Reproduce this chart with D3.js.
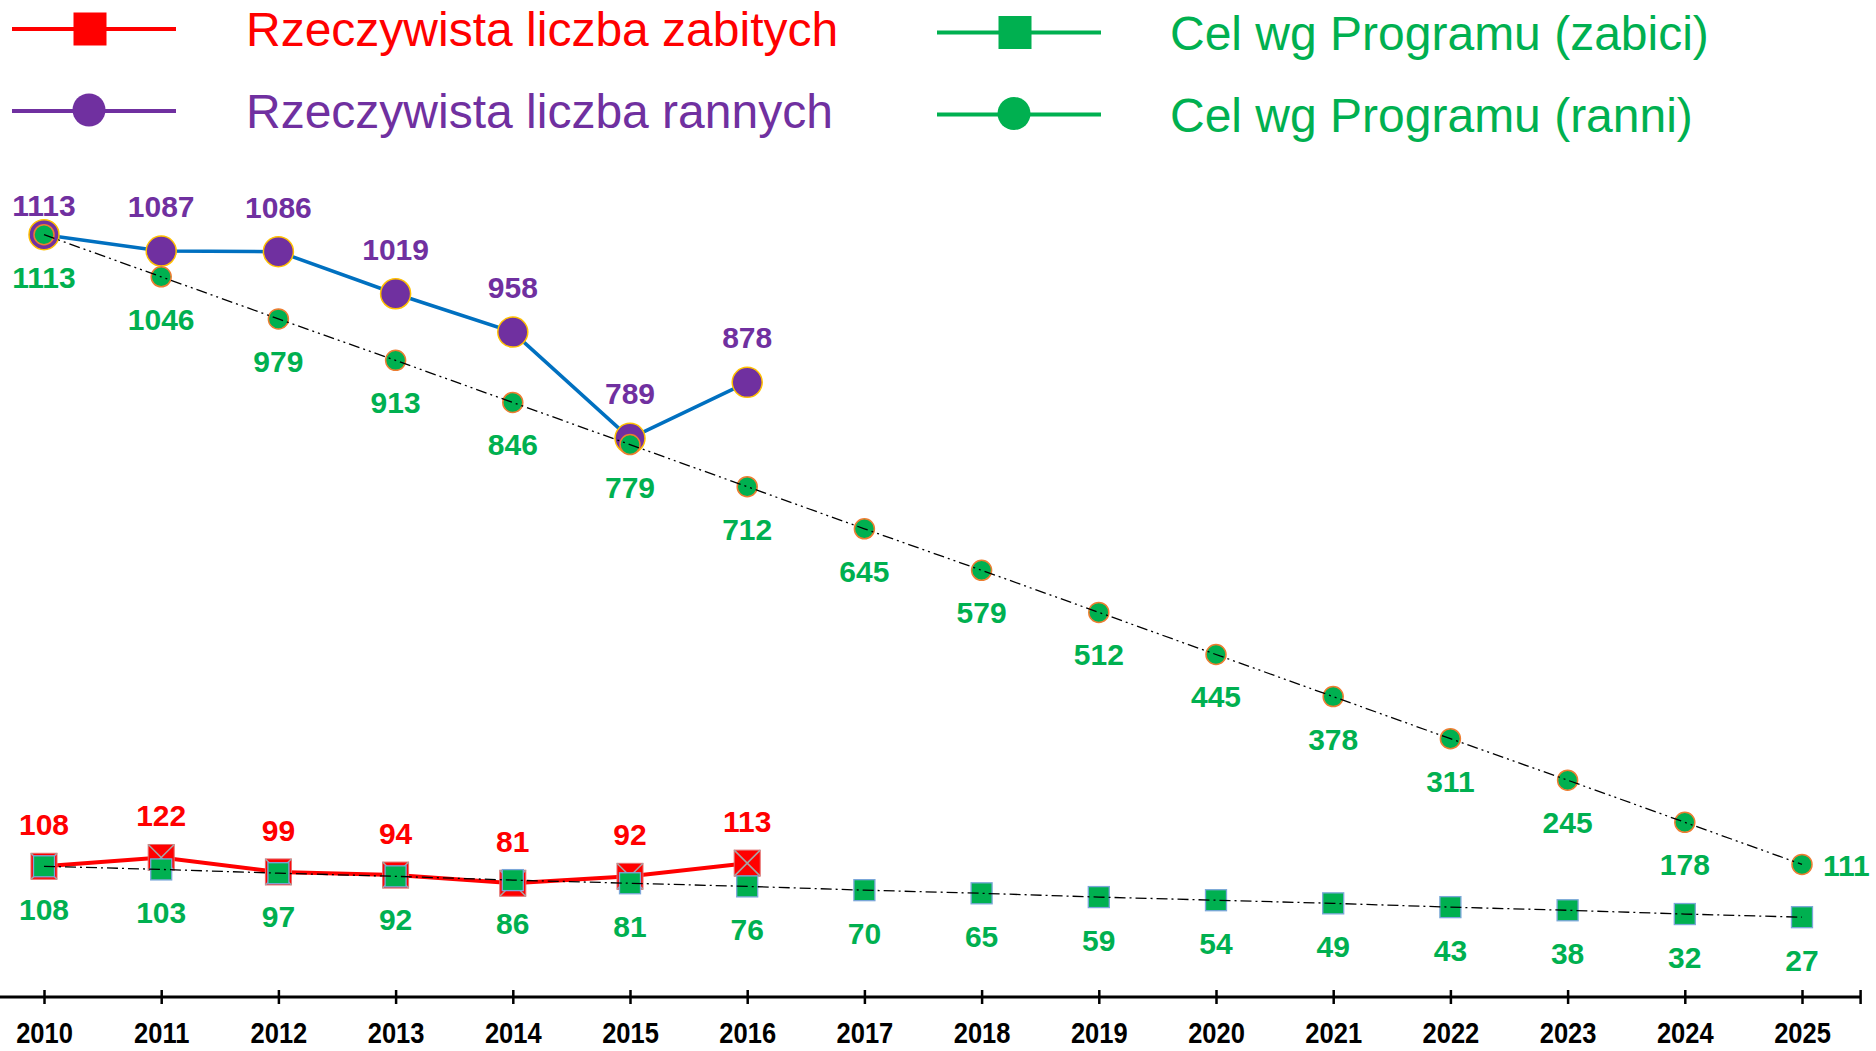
<!DOCTYPE html>
<html>
<head>
<meta charset="utf-8">
<script src="https://cdn.jsdelivr.net/npm/d3@7/dist/d3.min.js"></script>
<style>
  body { margin: 0; background: #fff; }
  svg { display: block; }
  .value-label { font-family: 'Liberation Sans', Arial, sans-serif; font-weight: bold; font-size: 30px; }
  .legend text { font-family: 'Liberation Sans', Arial, sans-serif; font-size: 48px; }
  .x-axis .tick text { font-family: 'Liberation Sans', Arial, sans-serif; font-weight: bold; font-size: 30px; fill: #000; }
</style>
</head>
<body>
<svg id="chart" width="1876" height="1051"></svg>
<script>
// categories
let years = ['2010', '2011', '2012', '2013', '2014', '2015', '2016', '2017',
  '2018', '2019', '2020', '2021', '2022', '2023', '2024', '2025']

// actual values (2010-2016)
let actualKilled = [108, 122, 99, 94, 81, 92, 113]
let actualInjured = [1113, 1087, 1086, 1019, 958, 789, 878]

// program targets (2010-2025)
let targetKilled = [108, 103, 97, 92, 86, 81, 76, 70, 65, 59, 54, 49, 43, 38, 32, 27]
let targetInjured = [1113, 1046, 979, 913, 846, 779, 712, 645, 579, 512, 445, 378, 311, 245, 178, 111]

let legendLabels = [
  'Rzeczywista liczba zabitych',
  'Rzeczywista liczba rannych',
  'Cel wg Programu (zabici)',
  'Cel wg Programu (ranni)'
]

let RED = '#ff0000'
let PURPLE = '#7030a0'
let BLUE = '#0070c0'
let GREEN = '#00b050'

let svg = d3.select('#chart')
svg.append('rect').attr('width', 1876).attr('height', 1051).attr('fill', '#fff')

let x = d3.scalePoint().domain(years).range([44, 1802])
let y = d3.scaleLinear().domain([-100, 1200]).range([997, 180])
let step = x.step()

let points = values => values.map((v, i) => ({ year: years[i], value: v, i: i }))
let line = d3.line().x(d => x(d.year)).y(d => y(d.value))

// x axis: line runs half a category past the first and last year
let xAxis = d3.axisBottom(x).tickSizeOuter(0).tickSizeInner(7)
let axisG = svg.append('g')
    .attr('class', 'x-axis')
    .attr('transform', `translate(0,${y(-100)})`)
    .call(xAxis)
let axisStart = x(years[0]) - step / 2
let axisEnd = x(years[years.length - 1]) + step / 2
axisG.select('.domain')
    .attr('d', `M${axisStart},0H${axisEnd}`)
    .attr('stroke', '#000')
    .attr('stroke-width', 3)
axisG.selectAll('.tick line')
    .attr('y1', -7).attr('y2', 7)
    .attr('stroke', '#000').attr('stroke-width', 2.5)
// no narrow font installed, so squeeze the bold face horizontally
axisG.selectAll('.tick text')
    .attr('y', 46).attr('dy', null)
    .attr('transform', 'scale(0.85,1)')
axisG.selectAll('line.end-tick')
  .data([axisStart, axisEnd])
  .join('line')
    .attr('class', 'end-tick')
    .attr('x1', d => d).attr('x2', d => d)
    .attr('y1', -7).attr('y2', 7)
    .attr('stroke', '#000').attr('stroke-width', 2.5)

// actual injured: blue line under purple circles
svg.append('path')
    .datum(points(actualInjured))
    .attr('d', line)
    .attr('fill', 'none')
    .attr('stroke', BLUE)
    .attr('stroke-width', 3.5)
svg.append('g').selectAll('circle')
  .data(points(actualInjured))
  .join('circle')
    .attr('cx', d => x(d.year))
    .attr('cy', d => y(d.value))
    .attr('r', 15)
    .attr('fill', PURPLE)
    .attr('stroke', '#ffc000')
    .attr('stroke-width', 1.5)

// target injured: green circles, dash-dot-dot line on top
svg.append('g').selectAll('circle')
  .data(points(targetInjured))
  .join('circle')
    .attr('cx', d => x(d.year))
    .attr('cy', d => y(d.value))
    .attr('r', 10)
    .attr('fill', GREEN)
    .attr('stroke', '#ed7d31')
    .attr('stroke-width', 1.5)
svg.append('path')
    .datum(points(targetInjured))
    .attr('d', line)
    .attr('fill', 'none')
    .attr('stroke', '#000')
    .attr('stroke-width', 1.3)
    .attr('stroke-dasharray', '11,4,2,4,2,4')

// actual killed: red line and red squares with a grey cross
svg.append('path')
    .datum(points(actualKilled))
    .attr('d', line)
    .attr('fill', 'none')
    .attr('stroke', RED)
    .attr('stroke-width', 4)
let redSq = 26
let redMarks = svg.append('g').selectAll('g')
  .data(points(actualKilled))
  .join('g')
    .attr('transform', d => `translate(${x(d.year)},${y(d.value)})`)
redMarks.append('rect')
    .attr('x', -redSq / 2).attr('y', -redSq / 2)
    .attr('width', redSq).attr('height', redSq)
    .attr('fill', RED)
    .attr('stroke', '#e46c6c')
    .attr('stroke-width', 1)
redMarks.append('path')
    .attr('d', `M${-redSq / 2},${-redSq / 2}L${redSq / 2},${redSq / 2}M${redSq / 2},${-redSq / 2}L${-redSq / 2},${redSq / 2}`)
    .attr('stroke', '#a6a6a6')
    .attr('stroke-width', 1.5)

// target killed: green squares, dash-dot line on top
let greenSq = 21
svg.append('g').selectAll('rect')
  .data(points(targetKilled))
  .join('rect')
    .attr('x', d => x(d.year) - greenSq / 2)
    .attr('y', d => y(d.value) - greenSq / 2)
    .attr('width', greenSq).attr('height', greenSq)
    .attr('fill', GREEN)
    .attr('stroke', '#7ba7d9')
    .attr('stroke-width', 1.3)
svg.append('path')
    .datum(points(targetKilled))
    .attr('d', line)
    .attr('fill', 'none')
    .attr('stroke', '#000')
    .attr('stroke-width', 1.3)
    .attr('stroke-dasharray', '11,4,2,4')

// value labels
let labels = svg.append('g').attr('class', 'value-label')

// purple labels sit above, but never above the top of the plot area
labels.append('g').selectAll('text')
  .data(points(actualInjured))
  .join('text')
    .attr('x', d => x(d.year))
    .attr('y', d => Math.max(y(d.value) - 34, 216))
    .attr('text-anchor', 'middle')
    .attr('fill', PURPLE)
    .text(d => d.value)

// the last target label goes to the right of its point
let lastIdx = targetInjured.length - 1
labels.append('g').selectAll('text')
  .data(points(targetInjured))
  .join('text')
    .attr('x', d => d.i === lastIdx ? x(d.year) + 21 : x(d.year))
    .attr('y', d => d.i === lastIdx ? y(d.value) + 12 : y(d.value) + 53)
    .attr('text-anchor', d => d.i === lastIdx ? 'start' : 'middle')
    .attr('fill', GREEN)
    .text(d => d.value)

labels.append('g').selectAll('text')
  .data(points(actualKilled))
  .join('text')
    .attr('x', d => x(d.year))
    .attr('y', d => y(d.value) - 31)
    .attr('text-anchor', 'middle')
    .attr('fill', RED)
    .text(d => d.value)

labels.append('g').selectAll('text')
  .data(points(targetKilled))
  .join('text')
    .attr('x', d => x(d.year))
    .attr('y', d => y(d.value) + 53.5)
    .attr('text-anchor', 'middle')
    .attr('fill', GREEN)
    .text(d => d.value)

// legend: two columns, two rows
let legendItems = [
  { label: legendLabels[0], color: RED, shape: 'square', col: 0, row: 0 },
  { label: legendLabels[1], color: PURPLE, shape: 'circle', col: 0, row: 1 },
  { label: legendLabels[2], color: GREEN, shape: 'square', col: 1, row: 0 },
  { label: legendLabels[3], color: GREEN, shape: 'circle', col: 1, row: 1 }
]
let legend = svg.append('g').attr('class', 'legend')
let item = legend.selectAll('g')
  .data(legendItems)
  .join('g')
    .attr('transform', d => `translate(${[12, 937][d.col]},${29 + d.row * 82 + d.col * 3.5})`)
item.append('line')
    .attr('x1', 0).attr('x2', 164)
    .attr('stroke', d => d.color)
    .attr('stroke-width', 4)
item.filter(d => d.shape === 'square').append('rect')
    .attr('x', 78 - 16.5).attr('y', -16.5)
    .attr('width', 33).attr('height', 33)
    .attr('fill', d => d.color)
item.filter(d => d.shape === 'circle').append('circle')
    .attr('cx', 77).attr('cy', -1)
    .attr('r', 16.5)
    .attr('fill', d => d.color)
item.append('text')
    .attr('x', d => d.col === 0 ? 234 : 233)
    .attr('y', 17.3)
    .attr('fill', d => d.color)
    .text(d => d.label)
</script>
</body>
</html>
